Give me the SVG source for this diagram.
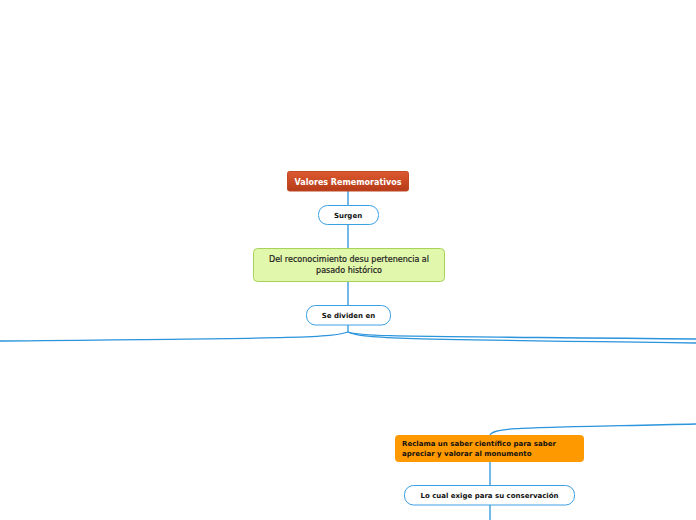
<svg xmlns="http://www.w3.org/2000/svg" width="696" height="520" viewBox="0 0 696 520">
<defs>
<linearGradient id="red" x1="0" y1="0" x2="0" y2="1">
<stop offset="0" stop-color="#dc5a30"/>
<stop offset="1" stop-color="#b53a18"/>
</linearGradient>
</defs>
<style>
.c{fill:none;stroke:#2a94dc;stroke-width:1.3}
.pill{fill:#fff;stroke:#3aa0e4;stroke-width:1}
.t{font-family:Verdana,"DejaVu Sans",sans-serif;font-size:7px;font-weight:bold;fill:#111}
.g{font-family:Verdana,"DejaVu Sans",sans-serif;font-size:8px;font-weight:normal;fill:#222;stroke:#222;stroke-width:0.2}
</style>
<rect width="696" height="520" fill="#fff"/>
<g id="connectors">
<path class="c" d="M348 191 V205"/>
<path class="c" d="M348 224 V248"/>
<path class="c" d="M348 281 V305"/>
<path class="c" d="M348 325 V332"/>
<path class="c" d="M348 332 C330 338 300 338 0 341"/>
<path class="c" d="M348 332 C362 337 400 336 696 339"/>
<path class="c" d="M348 332 C362 339 400 339 696 343"/>
<path class="c" d="M490 435 C494 427 520 428 696 424"/>
<path class="c" d="M490 462 V485"/>
<path class="c" d="M490 505 V520"/>
</g>
<g id="n1">
<rect x="287.5" y="171.5" width="121" height="19.5" rx="2" fill="url(#red)" stroke="#c04a25" stroke-width="1"/>
<text x="348" y="184.5" text-anchor="middle" class="t" style="fill:#fff;font-size:8px">Valores Rememorativos</text>
</g>
<g id="n2">
<rect x="318.5" y="205.5" width="60" height="19" rx="9" class="pill"/>
<text x="348" y="218" text-anchor="middle" class="t">Surgen</text>
</g>
<g id="n3">
<rect x="253.5" y="248.5" width="191" height="33" rx="4" fill="#e1f7ab" stroke="#a8d35a" stroke-width="1"/>
<text x="349" y="262" text-anchor="middle" class="g" textLength="160" lengthAdjust="spacingAndGlyphs">Del reconocimiento desu pertenencia al</text>
<text x="349" y="273" text-anchor="middle" class="g">pasado histórico</text>
</g>
<g id="n4">
<rect x="306.5" y="305.5" width="84" height="19.5" rx="9" class="pill"/>
<text x="348.5" y="318" text-anchor="middle" class="t">Se dividen en</text>
</g>
<g id="n5">
<rect x="395" y="435" width="189" height="27" rx="4" fill="#ff9900"/>
<text x="402" y="446" class="t">Reclama un saber científico para saber</text>
<text x="402" y="455.5" class="t">apreciar y valorar al monumento</text>
</g>
<g id="n6">
<rect x="404.5" y="485.5" width="170" height="19.5" rx="9" class="pill"/>
<text x="489.5" y="498" text-anchor="middle" class="t">Lo cual exige para su conservación</text>
</g>
</svg>
